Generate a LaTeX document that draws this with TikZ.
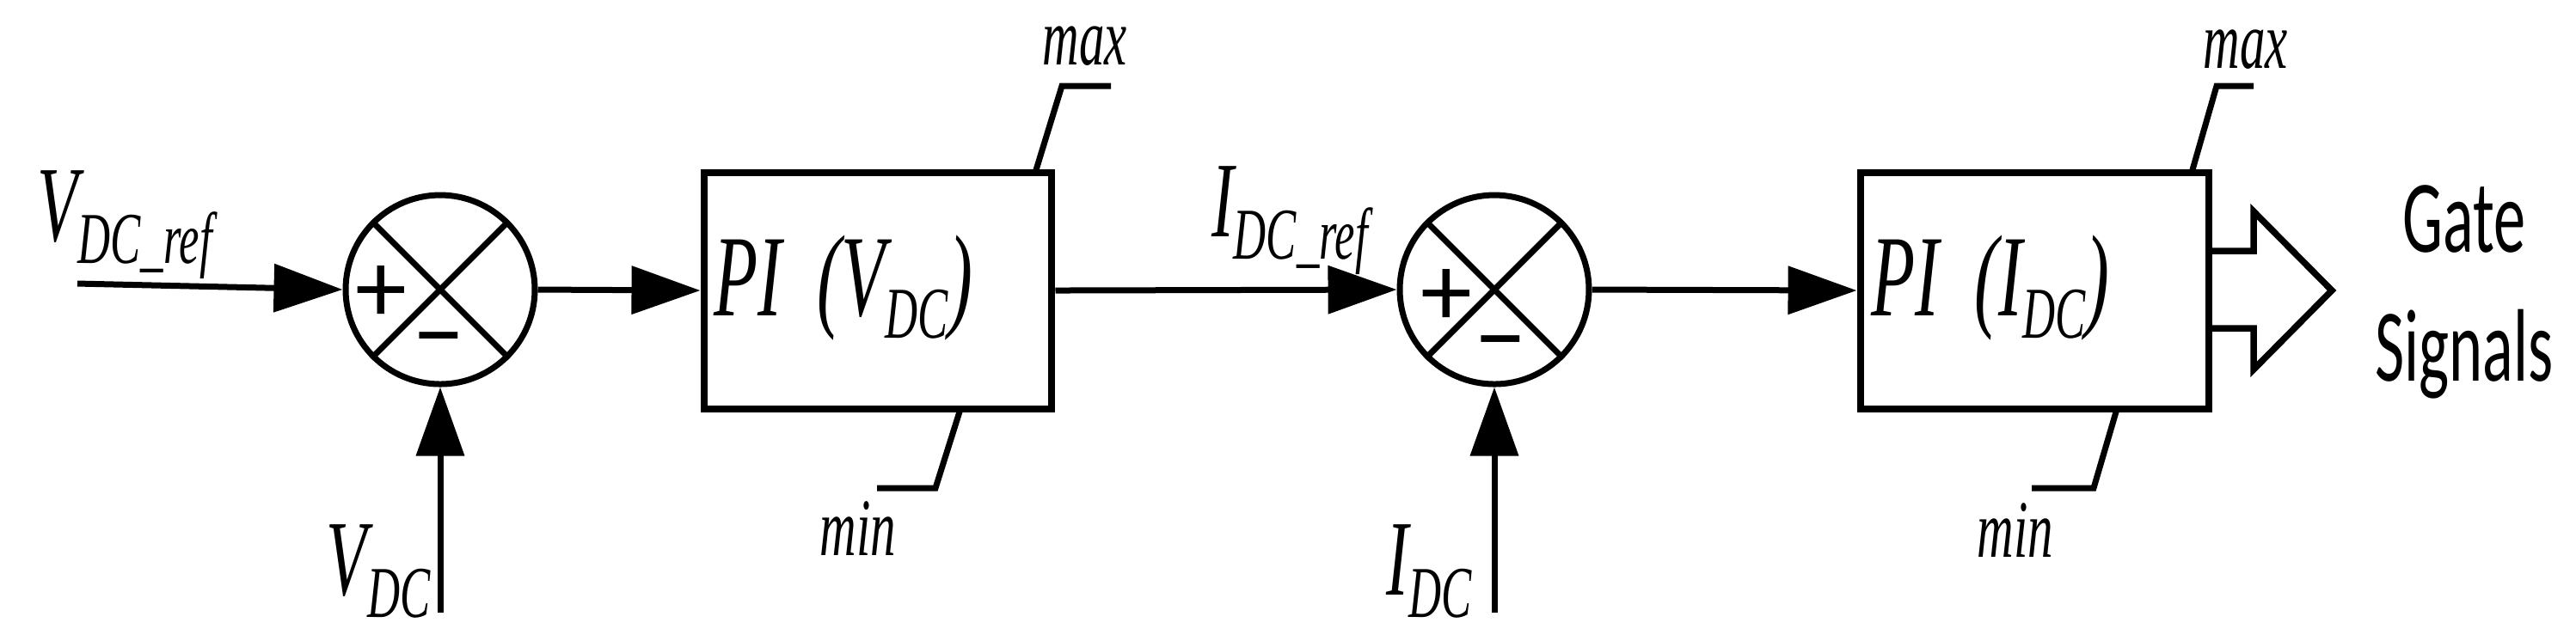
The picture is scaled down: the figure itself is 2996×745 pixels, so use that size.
\documentclass[tikz,border=0pt]{standalone}
\usepackage{fontspec}
\setmainfont{Liberation Serif}[FakeStretch=0.62]
\newfontfamily\calib{Carlito}[FakeStretch=0.62]
\newfontfamily\signf{Carlito}
\usetikzlibrary{arrows.meta}
\newcommand{\sbx}[1]{\raisebox{-2.6pt}{\fontsize{8.5}{8.5}\selectfont #1}}
\begin{document}
\begin{tikzpicture}[x=0.1pt,y=-0.1pt,
  ln/.style={line width=0.7pt},
  arr/.style={ln,-{Triangle[length=8pt,width=5.5pt]}},
  blk/.style={draw,line width=0.8pt,minimum width=40.5pt,minimum height=27.5pt,inner sep=0pt},
  sum/.style={draw,circle,line width=0.7pt,minimum size=22pt,inner sep=0pt},
  lab/.style={font=\fontsize{12.5}{12.5}\selectfont\itshape,inner sep=0pt},
  lim/.style={font=\fontsize{9.5}{9.5}\selectfont\itshape,inner sep=0pt}]
\useasboundingbox (0,0) rectangle (2996,745);
% summing junctions
\node[sum] (s1) at (512,337) {};
\node[sum] (s2) at (1738,337) {};
\draw[ln] (s1.north west)--(s1.south east) (s1.north east)--(s1.south west);
\draw[ln] (s2.north west)--(s2.south east) (s2.north east)--(s2.south west);
\node[font=\signf\fontsize{12}{12}\selectfont] (p1) at (443,342) {+};
\node[font=\signf\fontsize{12}{12}\selectfont] (m1) at (510,408) {−};
\node[font=\signf\fontsize{12}{12}\selectfont] (p2) at (1682,346) {+};
\node[font=\signf\fontsize{12}{12}\selectfont] (m2) at (1745,412) {−};
% blocks
\node[blk] (b1) at (1021,338) {};
\node[lab,anchor=west,font=\fontsize{13.5}{13.5}\selectfont\itshape] (t1) at (828,335) {PI\ \ (V\sbx{DC})};
\node[blk] (b2) at (2366,338) {};
\node[lab,anchor=west,font=\fontsize{13.5}{13.5}\selectfont\itshape] (t2) at (2174,335) {PI\ \ (I\sbx{DC})};
% inputs
\coordinate (in1) at (90,330);
\coordinate (vdc) at (512,713);
\coordinate (idc) at (1738,713);
\node[lab] (lref1) at (145,262) {V\sbx{DC\_ref}};
\node[lab] (lvdc) at (440,665) {V\sbx{DC}};
\node[lab] (lref2) at (1500,257) {I\sbx{DC\_ref}};
\node[lab] (lidc) at (1662,665) {I\sbx{DC}};
\draw[arr] (in1)--(s1.west);
\draw[arr] (vdc)--(s1.south);
\draw[arr] (s1.east)--(b1.west);
\draw[arr] (b1.east)--(s2.west);
\draw[arr] (idc)--(s2.south);
\draw[arr] (s2.east)--(b2.west);
% limits
\draw[ln] (1204,201)--(1235,100)--(1292,100);
\draw[ln] (1117,476)--(1088,568)--(1020,568);
\draw[ln] (2549,201)--(2578,100)--(2621,100);
\draw[ln] (2462,476)--(2435,568)--(2363,568);
\node[lim] (mx1) at (1262,54) {max};
\node[lim] (mn1) at (998,615) {min};
\node[lim] (mx2) at (2612,58) {max};
\node[lim] (mn2) at (2344,617) {min};
% gate arrow
\draw[line width=0.75pt] (b2.east|-0,292)--(2621,292)--(2621,246)--(2712,338)--(2621,430)--(2621,382)--(b2.east|-0,382);
\node[font=\calib\fontsize{12}{12}\selectfont,align=center,inner sep=0pt] (gs) at (2866,340) {Gate\\[3pt]Signals};
\end{tikzpicture}
\end{document}
